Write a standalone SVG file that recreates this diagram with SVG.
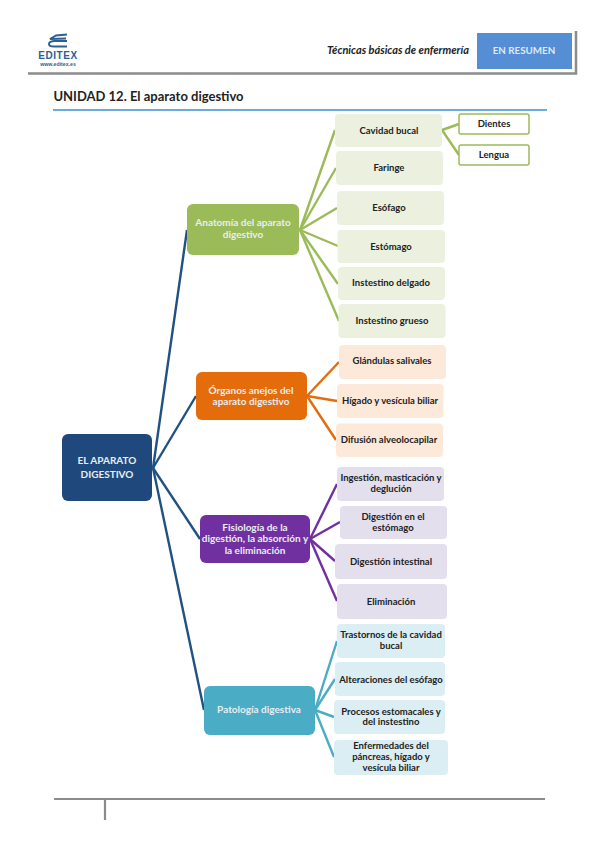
<svg xmlns="http://www.w3.org/2000/svg" width="599" height="848" viewBox="0 0 599 848">
<style>
text{font-family:Lato,"Liberation Sans",sans-serif;font-weight:700;text-anchor:middle}
.l{font-size:9.5px;fill:#222}
.m{font-size:10px;fill:#e8eef2}
.c line{fill:none;stroke-width:2.4}
.rule{stroke:#8c8c8c;fill:none}
.logo{font-family:"Liberation Sans",sans-serif;fill:#2c5f96}
</style>
<rect width="599" height="848" fill="#fff"/>
<g id="header">
<g id="logo">
<path d="M67 34.500L56 35.500L50 39L66 38.500" fill="none" stroke="#2c5f96" stroke-width="1.800"/>
<path d="M67 41L54 41Q49 41.500 49 44Q49 46.500 54 46.500L67 46.500" fill="none" stroke="#2c5f96" stroke-width="2"/>
<text class="logo" x="58" y="59" style="font-size:10px;letter-spacing:.6px">EDITEX</text>
<text class="logo" x="58" y="65.500" style="font-size:5.200px">www.editex.es</text>
</g>
<path class="rule" stroke-width="2.500" d="M28 73.500H576V31"/>
<text x="398" y="54" style="font-size:11px;font-style:italic;fill:#222">Técnicas básicas de enfermería</text>
<rect x="477" y="33" width="95" height="36" fill="#558ed5"/>
<text x="524" y="54" style="font-size:9.800px;fill:#dfe9f5">EN RESUMEN</text>
<text x="148.500" y="101" style="font-size:13px;fill:#222">UNIDAD 12. El aparato digestivo</text>
<line x1="53" y1="110" x2="547" y2="110" stroke="#3b8fd6" stroke-width="1.500"/>
</g>
<g id="connectors" class="c">
<g stroke="#215183">
<line x1="153" y1="468" x2="187" y2="230"/>
<line x1="153" y1="468" x2="196" y2="396"/>
<line x1="153" y1="468" x2="200" y2="539"/>
<line x1="153" y1="468" x2="204" y2="710"/>
</g>
<g stroke="#9bbb59">
<line x1="300" y1="230" x2="335" y2="130"/>
<line x1="300" y1="230" x2="336" y2="168"/>
<line x1="300" y1="230" x2="337" y2="208"/>
<line x1="300" y1="230" x2="338" y2="246"/>
<line x1="300" y1="230" x2="338" y2="284"/>
<line x1="300" y1="230" x2="339" y2="321"/>
<line x1="442" y1="130" x2="459" y2="124"/>
<line x1="442" y1="130" x2="459" y2="155"/>
</g>
<g stroke="#e46c0a">
<line x1="307" y1="396" x2="339" y2="362"/>
<line x1="307" y1="396" x2="337" y2="401"/>
<line x1="307" y1="396" x2="336" y2="440"/>
</g>
<g stroke="#7030a0">
<line x1="310" y1="539" x2="337" y2="484"/>
<line x1="310" y1="539" x2="340" y2="522"/>
<line x1="310" y1="539" x2="335" y2="561"/>
<line x1="310" y1="539" x2="337" y2="601"/>
</g>
<g stroke="#4bacc6">
<line x1="315" y1="710" x2="337" y2="641"/>
<line x1="315" y1="710" x2="335" y2="679"/>
<line x1="315" y1="710" x2="334" y2="717"/>
<line x1="315" y1="710" x2="334" y2="757"/>
</g>
</g>
<g id="root"><rect x="62" y="434" width="90" height="67" rx="6" fill="#1f497d"/><text class="m" x="107" y="464">EL APARATO</text><text class="m" x="107" y="478">DIGESTIVO</text></g>
<g id="anatomia"><rect x="187" y="204" width="112" height="51" rx="6" fill="#9bbb59"/><text class="m" x="243" y="226">Anatomía del aparato</text><text class="m" x="243" y="238">digestivo</text></g>
<g id="organos"><rect x="196" y="372" width="111" height="48" rx="6" fill="#e46c0a"/><text class="m" x="251" y="394">Órganos anejos del</text><text class="m" x="251" y="405">aparato digestivo</text></g>
<g id="fisiologia"><rect x="200" y="515" width="110" height="48" rx="6" fill="#7030a0"/><text class="m" x="255" y="531">Fisiología de la</text><text class="m" x="255" y="542">digestión, la absorción y</text><text class="m" x="255" y="554">la eliminación</text></g>
<g id="patologia"><rect x="204" y="686" width="111" height="49" rx="6" fill="#4bacc6"/><text class="m" x="259" y="713">Patología digestiva</text></g>
<g id="cavidad"><rect x="335" y="114" width="107" height="33" rx="4" fill="#ebf1de"/><text class="l" x="389" y="134">Cavidad bucal</text></g>
<g id="dientes"><rect x="459" y="114" width="70" height="20" rx="2" fill="#fff" stroke="#9bbb59" stroke-width="1.500"/><text class="l" x="494" y="127">Dientes</text></g>
<g id="lengua"><rect x="459" y="145" width="70" height="20" rx="2" fill="#fff" stroke="#9bbb59" stroke-width="1.500"/><text class="l" x="494" y="158">Lengua</text></g>
<g id="faringe"><rect x="336" y="151" width="107" height="34" rx="4" fill="#ebf1de"/><text class="l" x="389" y="171">Faringe</text></g>
<g id="esofago"><rect x="337" y="191" width="107" height="34" rx="4" fill="#ebf1de"/><text class="l" x="389" y="211">Esófago</text></g>
<g id="estomago"><rect x="337.500" y="230" width="107.500" height="33" rx="4" fill="#ebf1de"/><text class="l" x="391" y="250">Estómago</text></g>
<g id="delgado"><rect x="338" y="267" width="107" height="33" rx="4" fill="#ebf1de"/><text class="l" x="391" y="286">Instestino delgado</text></g>
<g id="grueso"><rect x="338.500" y="304" width="107" height="34" rx="4" fill="#ebf1de"/><text class="l" x="392" y="324">Instestino grueso</text></g>
<g id="glandulas"><rect x="339" y="345" width="107" height="34" rx="4" fill="#fde9d9"/><text class="l" x="392" y="364">Glándulas salivales</text></g>
<g id="higado"><rect x="337" y="384" width="106.500" height="34" rx="4" fill="#fde9d9"/><text class="l" x="390" y="404">Hígado y vesícula biliar</text></g>
<g id="difusion"><rect x="336" y="423.500" width="107" height="33.500" rx="4" fill="#fde9d9"/><text class="l" x="389" y="443">Difusión alveolocapilar</text></g>
<g id="ingestion"><rect x="337" y="467" width="107" height="34" rx="4" fill="#e4dfec"/><text class="l" x="391" y="481">Ingestión, masticación y</text><text class="l" x="391" y="492">deglución</text></g>
<g id="digestomago"><rect x="340" y="506" width="107" height="33" rx="4" fill="#e4dfec"/><text class="l" x="393" y="520">Digestión en el</text><text class="l" x="393" y="531">estómago</text></g>
<g id="digintestinal"><rect x="335" y="544" width="112" height="35" rx="4" fill="#e4dfec"/><text class="l" x="391" y="565">Digestión intestinal</text></g>
<g id="eliminacion"><rect x="337" y="584" width="110" height="35" rx="4" fill="#e4dfec"/><text class="l" x="391" y="605">Eliminación</text></g>
<g id="trastornos"><rect x="337" y="624" width="108" height="34" rx="4" fill="#daeef3"/><text class="l" x="391" y="638">Trastornos de la cavidad</text><text class="l" x="391" y="649">bucal</text></g>
<g id="alteraciones"><rect x="335" y="662" width="110" height="34" rx="4" fill="#daeef3"/><text class="l" x="391" y="683">Alteraciones del esófago</text></g>
<g id="procesos"><rect x="334" y="700" width="111" height="34" rx="4" fill="#daeef3"/><text class="l" x="391" y="715">Procesos estomacales y</text><text class="l" x="391" y="725">del instestino</text></g>
<g id="enfermedades"><rect x="334" y="740" width="114" height="35" rx="4" fill="#daeef3"/><text class="l" x="391" y="749">Enfermedades  del</text><text class="l" x="391" y="760">páncreas, hígado y</text><text class="l" x="391" y="771">vesícula biliar</text></g>
<g id="footer"><path class="rule" stroke-width="2.200" d="M54 799H545M105 799V820"/></g>
</svg>
